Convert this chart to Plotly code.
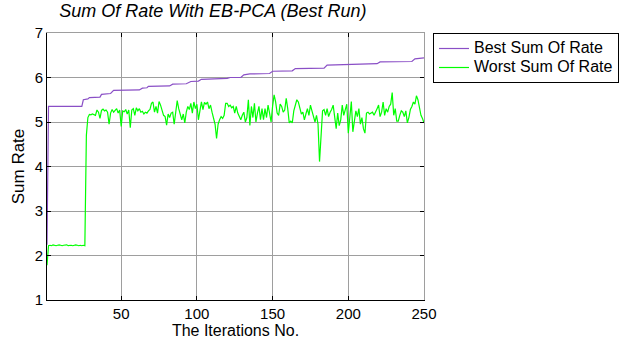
import plotly.graph_objects as go

# Iteration index for the per-iteration series
iterations = list(range(1, 251))

# Best sum of rate: corner points of the monotone staircase (iteration, value)
best_iter = [1, 2, 24, 25, 28, 29, 36, 37, 43, 45, 62, 64, 67, 68, 82, 84, 93, 96,
             101, 103, 120, 122, 129, 131, 135, 148, 150, 163, 165, 184, 186, 201,
             219, 221, 242, 244, 250]
best_rate = [2.24, 5.35, 5.35, 5.50, 5.52, 5.55, 5.56, 5.62, 5.64, 5.71, 5.72, 5.76,
             5.77, 5.80, 5.81, 5.85, 5.86, 5.91, 5.92, 5.96, 5.98, 6.00, 6.00, 6.06,
             6.08, 6.09, 6.14, 6.15, 6.20, 6.21, 6.28, 6.30, 6.31, 6.35, 6.36, 6.42,
             6.44]

# Worst sum of rate at every iteration
worst_rate = [
    1.78,
    2.22, 2.23, 2.22, 2.24, 2.23, 2.22, 2.23, 2.24, 2.23, 2.22, 2.23, 2.23, 2.24,
    2.22, 2.23, 2.23, 2.22, 2.23, 2.24, 2.23, 2.22, 2.23, 2.22, 2.23, 2.22,
    4.70, 5.10,
    5.17, 5.16, 5.18, 5.16, 5.15, 5.27, 5.22, 5.08, 5.26, 5.29, 5.25, 5.27, 5.22,
    4.95, 5.20, 5.28, 5.22, 5.26, 5.30, 5.20, 5.27,
    4.90, 5.25, 5.23, 5.28, 5.18, 5.27, 4.87, 5.27, 5.30, 5.15,
    5.32, 5.25, 5.30, 5.22, 5.24, 5.18, 5.22, 5.20, 5.25, 5.28,
    5.42, 5.45, 5.22, 5.35, 5.20, 5.46, 5.38, 5.25, 5.15, 5.12,
    4.93, 5.18, 5.10, 5.20, 5.22, 4.95, 5.20, 5.48, 5.30, 5.15,
    5.05, 5.18, 4.98, 5.22, 5.35, 5.28, 5.42, 5.20, 5.45, 5.30,
    5.40, 5.05, 5.30, 5.45, 5.28, 5.44, 5.40, 5.45, 5.30, 5.38,
    5.22, 5.10, 4.95, 4.63, 4.95, 5.05, 5.12, 5.08, 5.15,
    5.42, 5.42, 5.35, 5.38, 5.32, 5.35, 5.20, 5.35, 5.20, 5.10, 5.05,
    5.15, 5.22, 5.00, 5.10, 5.50, 4.92, 5.35, 5.10, 5.42, 5.00,
    5.20, 5.35, 5.05, 5.30, 5.05, 5.30, 5.10, 5.38, 5.20, 5.00,
    5.35, 5.61, 5.45, 5.20, 5.15, 5.40, 5.35, 5.22, 5.27, 5.53,
    5.30, 4.98, 5.02, 4.98, 5.25, 5.40, 5.50, 5.45, 5.28, 5.18,
    5.22, 5.05, 5.18, 5.30, 5.15, 5.38, 5.25, 5.10, 5.00, 5.15,
    4.95, 4.11, 4.85, 5.25, 5.28, 5.15, 5.30, 5.12, 5.22, 5.28,
    5.38, 5.10, 4.85, 5.20, 4.92, 5.05, 5.38, 5.15, 5.28, 5.40,
    4.75, 5.20, 5.46, 4.78, 5.05, 5.25, 5.12, 5.30, 4.95, 5.10,
    4.85, 4.75, 5.20, 5.22, 5.18, 5.20, 5.22, 5.15, 5.25, 5.30,
    5.38, 5.12, 5.22, 5.45, 5.15, 5.30, 5.22, 5.35, 5.40, 5.66,
    5.15, 5.30, 5.02, 5.02, 5.15, 5.25, 5.22, 5.12, 5.25, 4.98,
    5.10, 5.28, 5.35, 5.45, 5.40, 5.59, 5.50, 5.30, 5.15, 5.08, 4.98,
]

x_ticks = [50, 100, 150, 200, 250]
y_ticks = [1, 2, 3, 4, 5, 6, 7]

FONT = "Liberation Sans, Arial, sans-serif"
PURPLE = "#8a4fc6"
GREEN = "#00ff00"
GRID = "#9e9e9e"
W, H = 624, 345


def legend_label(text):
    # larger glyphs inside a compact legend row
    return f'<span style="font-size:16px">{text}</span>'


fig = go.Figure()
fig.add_trace(go.Scatter(x=best_iter, y=best_rate, mode="lines",
                         name=legend_label("Best Sum Of Rate"),
                         line=dict(color=PURPLE, width=1.2)))
fig.add_trace(go.Scatter(x=iterations, y=worst_rate, mode="lines",
                         name=legend_label("Worst Sum Of Rate"),
                         line=dict(color=GREEN, width=1.2)))
# empty trace so the mirrored top/right axes are drawn
fig.add_trace(go.Scatter(x=[], y=[], xaxis="x2", yaxis="y2", showlegend=False,
                         hoverinfo="skip"))

fig.update_layout(
    width=W, height=H,
    margin=dict(l=47, r=200, t=33, b=45, autoexpand=False),
    paper_bgcolor="white", plot_bgcolor="white",
    font=dict(family=FONT, size=15, color="black"),
    title=dict(text="<i>Sum Of Rate With EB-PCA (Best Run)</i>",
               x=0.44, xanchor="center", y=0.988, yanchor="top",
               xref="paper", font=dict(size=18)),
    xaxis=dict(range=[1, 250], tickvals=x_ticks, ticks="inside", ticklen=4,
               tickcolor="black", showline=True, linecolor="black", linewidth=1,
               showgrid=True, gridcolor=GRID, gridwidth=1, zeroline=False,
               title=dict(text="The Iterations No.", standoff=1,
                          font=dict(size=16))),
    yaxis=dict(range=[1, 7], tickvals=y_ticks, ticks="inside", ticklen=4,
               tickcolor="black", showline=True, linecolor="black", linewidth=1,
               showgrid=True, gridcolor=GRID, gridwidth=1, zeroline=False,
               title=dict(text="Sum Rate", standoff=5, font=dict(size=17))),
    xaxis2=dict(range=[1, 250], tickvals=x_ticks, ticks="inside", ticklen=4,
                tickcolor="black", showticklabels=False, overlaying="x",
                side="top", anchor="y", showline=True, linecolor=GRID,
                showgrid=False, zeroline=False),
    yaxis2=dict(range=[1, 7], tickvals=y_ticks, ticks="inside", ticklen=4,
                tickcolor="black", showticklabels=False, overlaying="y",
                side="right", anchor="x", showline=True, linecolor=GRID,
                showgrid=False, zeroline=False),
    legend=dict(xref="container", yref="container",
                x=433 / W, xanchor="left", y=1 - 33 / H, yanchor="top",
                bgcolor="white", bordercolor="black", borderwidth=1,
                font=dict(size=12), tracegroupgap=0, itemwidth=30),
    showlegend=True,
)

fig.write_html("out.html")
